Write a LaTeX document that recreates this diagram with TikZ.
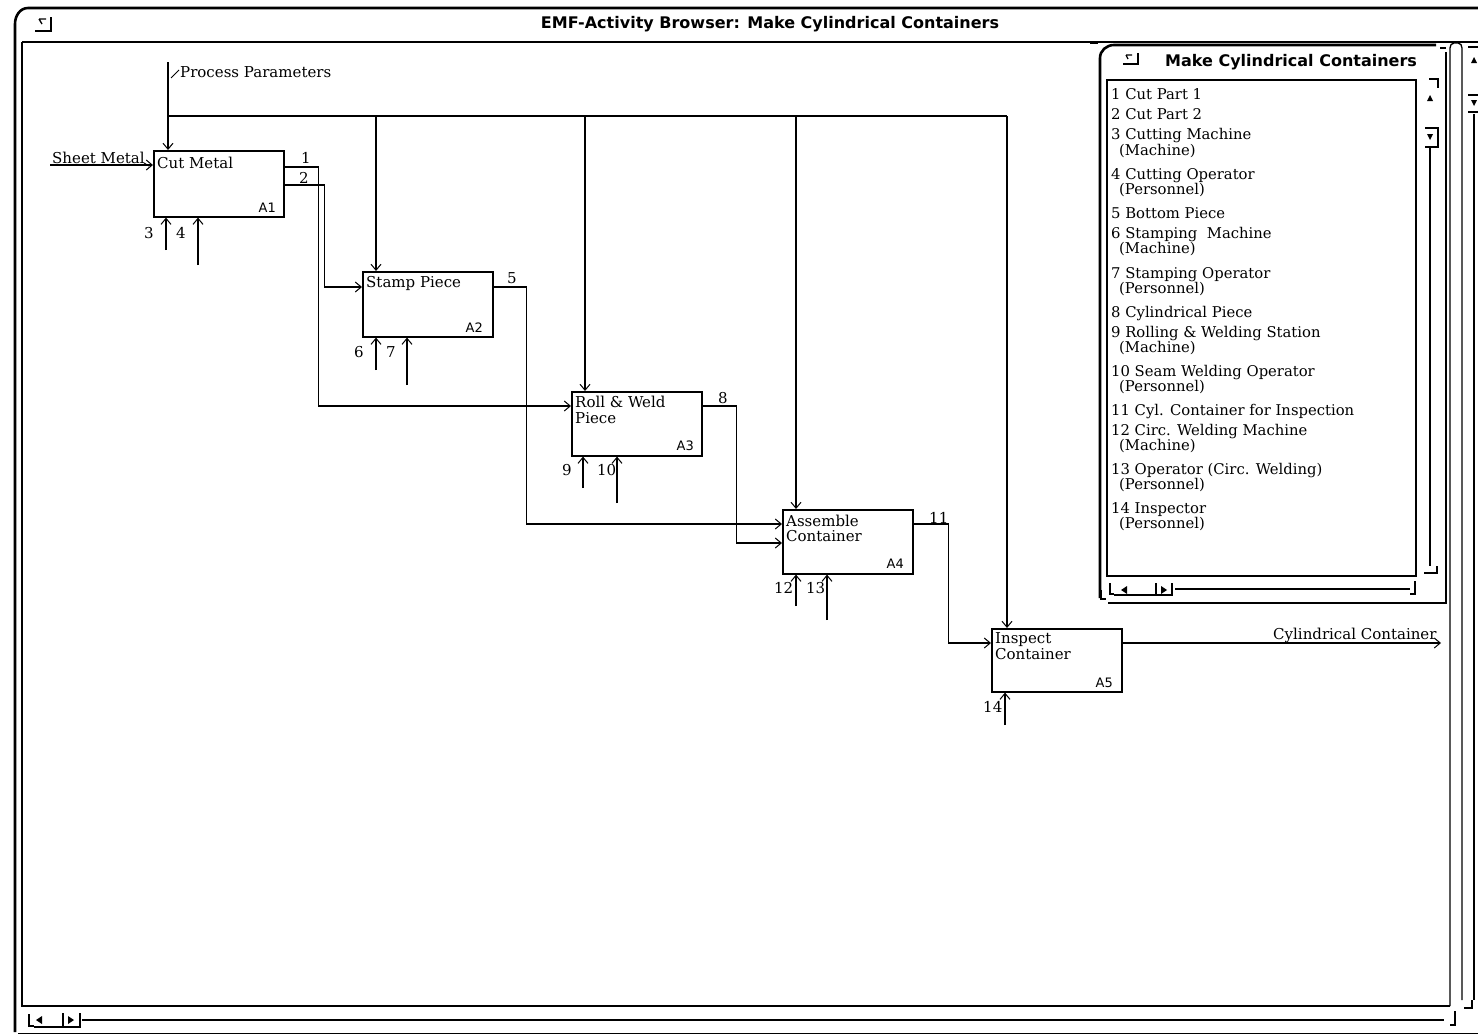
\documentclass[tikz,border=0pt]{standalone}
\usepackage{fontspec}
\setmainfont{DejaVu Serif}
\newfontfamily\uifont{DejaVu Sans}
\usetikzlibrary{arrows.meta,calc}
\begin{document}
\begin{tikzpicture}[x=1pt,y=-1pt]
\tikzset{
 ln/.style={line width=1.4pt},
 arr/.style={ln,-{Straight Barb[length=6pt,width=10pt,line width=1pt]}},
 box/.style={draw,line width=1.6pt,minimum width=130pt,minimum height=65pt,anchor=north west,inner sep=0pt},
 lbl/.style={font=\fontsize{15}{15}\selectfont,anchor=base west,inner sep=0pt},
 aid/.style={font=\uifont\fontsize{13}{13}\selectfont,anchor=base east,inner sep=0pt},
 frame/.style={line width=2.6pt},
 chrome/.style={line width=1.3pt},
 bar/.style={line width=2.6pt},
 listtxt/.style={font=\fontsize{14.8}{14.8}\selectfont,anchor=base west,inner sep=0pt},
 wtitle/.style={font=\uifont\bfseries\fontsize{16}{16}\selectfont,inner sep=0pt},
}
\useasboundingbox (0,0) rectangle (1478,1036);
\fill[white] (0,0) rectangle (1478,1036);

% ---------- window chrome ----------
\draw[frame] (15,1032) -- (15,24) to[out=90,in=180] (28,8) -- (1478,8);
\draw[chrome] (22,42) -- (1478,42);
\draw[chrome] (22,42) -- (22,1006) -- (1450,1006);
\draw[chrome] (1450,1006) -- (1450,48) to[out=90,in=180] (1454,43) -- (1458,43) to[out=0,in=90] (1462,48) -- (1462,1000);
\node[wtitle] (wt) at (770,24) {EMF-Activity Browser: Make Cylindrical Containers};
% window menu button
\draw[chrome] (35,31) -- (51,31) -- (51,17);
\draw[chrome] (39,19) -- (46,19) (39,19) -- (42,24);
% right scrollbar
\draw[chrome] (1468,47) -- (1478,47);
\fill (1471,63) -- (1477,63) -- (1474,57) -- cycle;
\draw[chrome] (1468,95) -- (1478,95);
\fill (1471,100) -- (1477,100) -- (1474,106) -- cycle;
\draw[chrome] (1468,112) -- (1478,112);
\draw[bar] (1474,114) -- (1474,1000);
\draw[chrome] (1464,1008) -- (1472,1008) -- (1472,1000);
% bottom scrollbar
\draw[chrome] (29,1014) -- (29,1026) -- (34,1026);
\fill (36,1020) -- (42,1016) -- (42,1024) -- cycle;
\draw[chrome] (34,1027) -- (63,1027) -- (63,1013);
\fill (68,1016) -- (74,1020) -- (68,1024) -- cycle;
\draw[chrome] (80,1013) -- (80,1027) -- (63,1027);
\draw[bar] (82,1020) -- (1444,1020);
\draw[chrome] (1455,1011) -- (1455,1025) -- (1450,1025);
\draw[line width=1pt] (18,1033) -- (1478,1033);

% ---------- side panel ----------
\draw[chrome] (1090,43) -- (1098,43);
\draw[frame] (1100,598) -- (1100,58) to[out=90,in=180] (1114,45) -- (1436,45);
\draw[chrome] (1440,48) -- (1446,48);
\draw[frame] (1446,52) -- (1446,603) -- (1108,603);
\draw[chrome] (1101,590) -- (1101,599) -- (1106,599);
\node[wtitle,anchor=base west] (pt) at (1165,66) {Make Cylindrical Containers};
\draw[chrome] (1123,64) -- (1138,64) -- (1138,53);
\draw[chrome] (1126,55) -- (1132,55) (1126,55) -- (1128,59);
\draw[chrome] (1107,80) rectangle (1416,576);
% panel vertical scrollbar
\draw[chrome] (1429,79) -- (1438,79) -- (1438,88);
\fill (1427,101) -- (1433,101) -- (1430,95) -- cycle;
\draw[chrome] (1425,128) -- (1438,128) -- (1438,147) -- (1425,147);
\fill (1427,134) -- (1433,134) -- (1430,140) -- cycle;
\draw[bar] (1430,147) -- (1430,566);
\draw[chrome] (1424,573) -- (1437,573) -- (1437,566);
% panel horizontal scrollbar
\draw[chrome] (1110,583) -- (1110,594) -- (1114,594);
\fill (1121,590) -- (1127,586) -- (1127,594) -- cycle;
\draw[chrome] (1114,595) -- (1156,595) -- (1156,583);
\fill (1161,586) -- (1167,590) -- (1161,594) -- cycle;
\draw[chrome] (1172,583) -- (1172,595) -- (1156,595);
\draw[bar] (1175,589) -- (1410,589);
\draw[chrome] (1415,581) -- (1415,594) -- (1410,594);

% list
\foreach \yy/\lx/\lt in {
 99/1111/{1 Cut Part 1},
 119/1111/{2 Cut Part 2},
 139/1111/{3 Cutting Machine},
 155/1119/{(Machine)},
 179/1111/{4 Cutting Operator},
 194/1119/{(Personnel)},
 218/1111/{5 Bottom Piece},
 238/1111/{6 Stamping\ \ Machine},
 253/1119/{(Machine)},
 278/1111/{7 Stamping Operator},
 293/1119/{(Personnel)},
 317/1111/{8 Cylindrical Piece},
 337/1111/{9 Rolling \& Welding Station},
 352/1119/{(Machine)},
 376/1111/{10 Seam Welding Operator},
 391/1119/{(Personnel)},
 415/1111/{11 Cyl. Container for Inspection},
 435/1111/{12 Circ. Welding Machine},
 450/1119/{(Machine)},
 474/1111/{13 Operator (Circ. Welding)},
 489/1119/{(Personnel)},
 513/1111/{14 Inspector},
 528/1119/{(Personnel)}}
 {\node[listtxt] (li\yy) at (\lx,\yy) {\lt};}

% ---------- diagram boxes ----------
\node[box,minimum height=66pt] (A1) at (153,150) {};
\node[box] (A2) at (362,271) {};
\node[box,minimum height=64pt] (A3) at (571,391) {};
\node[box,minimum height=64pt] (A4) at (782,509) {};
\node[box,minimum height=63pt] (A5) at (991,628) {};

\node[lbl] (tA1) at (157,168) {Cut Metal};
\node[lbl] (tA2) at (366,287) {Stamp Piece};
\node[lbl] (tA3a) at (575,407) {Roll \& Weld};
\node[lbl] (tA3b) at (575,423) {Piece};
\node[lbl] (tA4a) at (786,526) {Assemble};
\node[lbl] (tA4b) at (786,541) {Container};
\node[lbl] (tA5a) at (995,643) {Inspect};
\node[lbl] (tA5b) at (995,659) {Container};

\node[aid] (iA1) at (276,212) {A1};
\node[aid] (iA2) at (483,332) {A2};
\node[aid] (iA3) at (694,450) {A3};
\node[aid] (iA4) at (904,568) {A4};
\node[aid] (iA5) at (1113,687) {A5};

% ---------- controls ----------
\coordinate (ppT) at (168,62);
\coordinate (j1) at (168,116);
\coordinate (j5) at (1007,116);
\draw[arr] (ppT) -- ([xshift=15pt]A1.north west);
\draw[ln] (j1) -- (j5);
\draw[arr] ([xshift=14pt]A2.north west |- j1) -- ([xshift=14pt]A2.north west);
\draw[arr] ([xshift=14pt]A3.north west |- j1) -- ([xshift=14pt]A3.north west);
\draw[arr] ([xshift=14pt]A4.north west |- j1) -- ([xshift=14pt]A4.north west);
\draw[arr] (j5) -- ([xshift=16pt]A5.north west);
\node[lbl] (pp) at (180,77) {Process Parameters};
\draw[line width=1pt] (171,78) -- (179,70);

% ---------- input ----------
\coordinate (sm) at (50,165);
\draw[arr] (sm) -- (A1.west |- sm);
\node[lbl] (tsm) at (52,163) {Sheet Metal};
\draw[line width=1pt] (144,163) -- (149,166);

% ---------- outputs / flows ----------
\draw[arr] ([yshift=-17pt]A1.north east) -- ++(34,0) |- ([yshift=-15pt]A3.north west);
\draw[arr] ([yshift=-35pt]A1.north east) -- ++(40,0) |- ([yshift=-16pt]A2.north west);
\draw[arr] ([yshift=-16pt]A2.north east) -- ++(33,0) |- ([yshift=-15pt]A4.north west);
\draw[arr] ([yshift=-15pt]A3.north east) -- ++(34,0) |- ([yshift=-34pt]A4.north west);
\draw[arr] ([yshift=-15pt]A4.north east) -- ++(35,0) |- ([yshift=-15pt]A5.north west);
\coordinate (cc) at (1441,643);
\draw[arr] ([yshift=-15pt]A5.north east) -- (cc);
\node[lbl] (tcc) at (1273,639) {Cylindrical Container};

\node[lbl] (n1) at (301,163) {1};
\node[lbl] (n2) at (299,183) {2};
\node[lbl] (n5) at (507,283) {5};
\node[lbl] (n8) at (718,403) {8};
\node[lbl] (n11) at (929,523) {11};

% ---------- mechanisms ----------
\coordinate (m3) at (166,250);
\coordinate (m4) at (198,265);
\coordinate (m6) at (376,370);
\coordinate (m7) at (407,385);
\coordinate (m9) at (583,488);
\coordinate (m10) at (617,503);
\coordinate (m12) at (796,606);
\coordinate (m13) at (827,620);
\coordinate (m14) at (1005,725);
\draw[arr] (m3) -- (m3 |- A1.south);
\draw[arr] (m4) -- (m4 |- A1.south);
\draw[arr] (m6) -- (m6 |- A2.south);
\draw[arr] (m7) -- (m7 |- A2.south);
\draw[arr] (m9) -- (m9 |- A3.south);
\draw[arr] (m10) -- (m10 |- A3.south);
\draw[arr] (m12) -- (m12 |- A4.south);
\draw[arr] (m13) -- (m13 |- A4.south);
\draw[arr] (m14) -- (m14 |- A5.south);
\node[lbl] (n3) at (144,238) {3};
\node[lbl] (n4) at (176,238) {4};
\node[lbl] (n6) at (354,357) {6};
\node[lbl] (n7) at (386,357) {7};
\node[lbl] (n9) at (562,475) {9};
\node[lbl] (n10) at (597,475) {10};
\node[lbl] (n12) at (774,593) {12};
\node[lbl] (n13) at (806,593) {13};
\node[lbl] (n14) at (983,712) {14};
\end{tikzpicture}
\end{document}
